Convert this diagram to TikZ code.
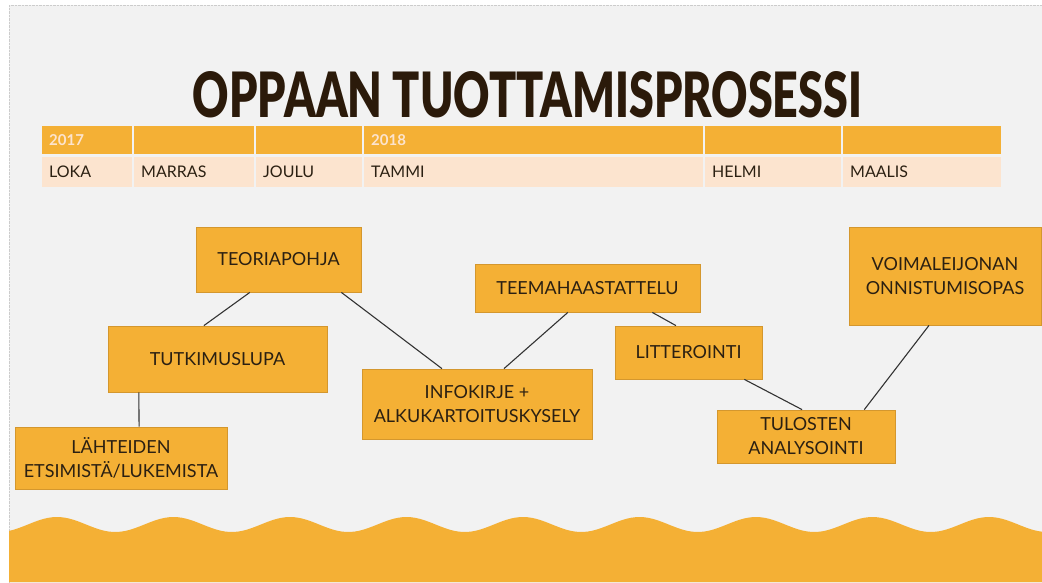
\documentclass[tikz,border=0pt]{standalone}
\usepackage{fontspec}
\setmainfont{Lato}
\newfontfamily\titlefont{Lato Black}
\usetikzlibrary{positioning,calc}
\definecolor{oranssi}{HTML}{F4B035}
\definecolor{reuna}{HTML}{D4972E}
\definecolor{persikka}{HTML}{FCE4CF}
\definecolor{tausta}{HTML}{F2F2F2}
\definecolor{ruskea}{HTML}{2B1A0A}
\definecolor{teksti}{HTML}{2B2012}
\tikzset{
  tb/.style={rectangle, minimum width=#1, draw=reuna, line width=0.8pt, fill=oranssi, text=teksti, align=center, font=\fontsize{18}{24}\selectfont},
  yr/.style={rectangle, anchor=north west, fill=oranssi, minimum height=28pt, inner xsep=7pt, inner ysep=0pt, text=persikka, font=\fontsize{15}{18}\selectfont\bfseries},
  mo/.style={rectangle, anchor=north west, fill=persikka, minimum height=30pt, inner xsep=7pt, inner ysep=0pt, text=teksti, font=\fontsize{16}{18}\selectfont},
  cn/.style={draw=black!80, line width=1.1pt}
}
\begin{document}
\begin{tikzpicture}[x=1pt,y=-1pt]
	\useasboundingbox (0,0) rectangle (1042,582);
	\fill[white] (0,0) rectangle (1042,582);
	\draw[fill=tausta, draw=black!20, densely dotted] (9,5) rectangle (1042,590);
	% aalto
	\fill[oranssi] (9,582) -- plot[domain=9:1042, samples=240] (\x, {524.5-7.5*cos(3.0901*(\x-57))}) -- (1042,582) -- cycle;
	% otsikko
	\node[text=ruskea, inner sep=0pt] (otsikko) at (527.5,95) {\resizebox{669pt}{46pt}{\titlefont OPPAAN TUOTTAMISPROSESSI}};
	% aikajana
	\foreach \x/\w/\v/\k [count=\i] in {41/76/2017/LOKA, 133/106//MARRAS, 255/92//JOULU, 363/325/2018/TAMMI, 704/122//HELMI, 842/144//MAALIS} {
		\node[yr, text width=\w pt] (v\i) at (\x+1,126) {\v};
		\node[mo, text width=\w pt] (k\i) at (\x+1,156.5) {\k};
	}
	% vaiheet
	\node[tb=165pt, minimum height=65pt] (teoria) at (278.5,259.5) {TEORIAPOHJA};
	\node[tb=219pt, minimum height=66pt] (tutkimus) at (217.5,359) {TUTKIMUSLUPA};
	\node[tb=212pt, minimum height=62pt] (lahteet) at (121,458) {LÄHTEIDEN\\ETSIMISTÄ/LUKEMISTA};
	\node[tb=230pt, minimum height=70pt] (info) at (477,404) {INFOKIRJE +\\ALKUKARTOITUSKYSELY};
	\node[tb=225pt, minimum height=48pt] (teema) at (587.5,288) {TEEMAHAASTATTELU};
	\node[tb=147pt, minimum height=53pt] (litt) at (688.5,352.5) {LITTEROINTI};
	\node[tb=178pt, minimum height=53pt] (tulos) at (806,436.5) {TULOSTEN\\ANALYSOINTI};
	\node[tb=192pt, minimum height=98pt] (voima) at (945,276) {VOIMALEIJONAN\\ONNISTUMISOPAS};
	% yhteydet
	\foreach \a/\p/\b/\q in {teoria/0.327/tutkimus/0.438, teoria/0.879/info/0.348, teema/0.413/info/0.617, tutkimus/0.142/lahteet/0.585, teema/0.787/litt/0.415, litt/0.878/tulos/0.478, voima/0.417/tulos/0.826}
		\draw[cn] ($(\a.south west)!\p!(\a.south east)$) -- ($(\b.north west)!\q!(\b.north east)$);
\end{tikzpicture}
\end{document}
